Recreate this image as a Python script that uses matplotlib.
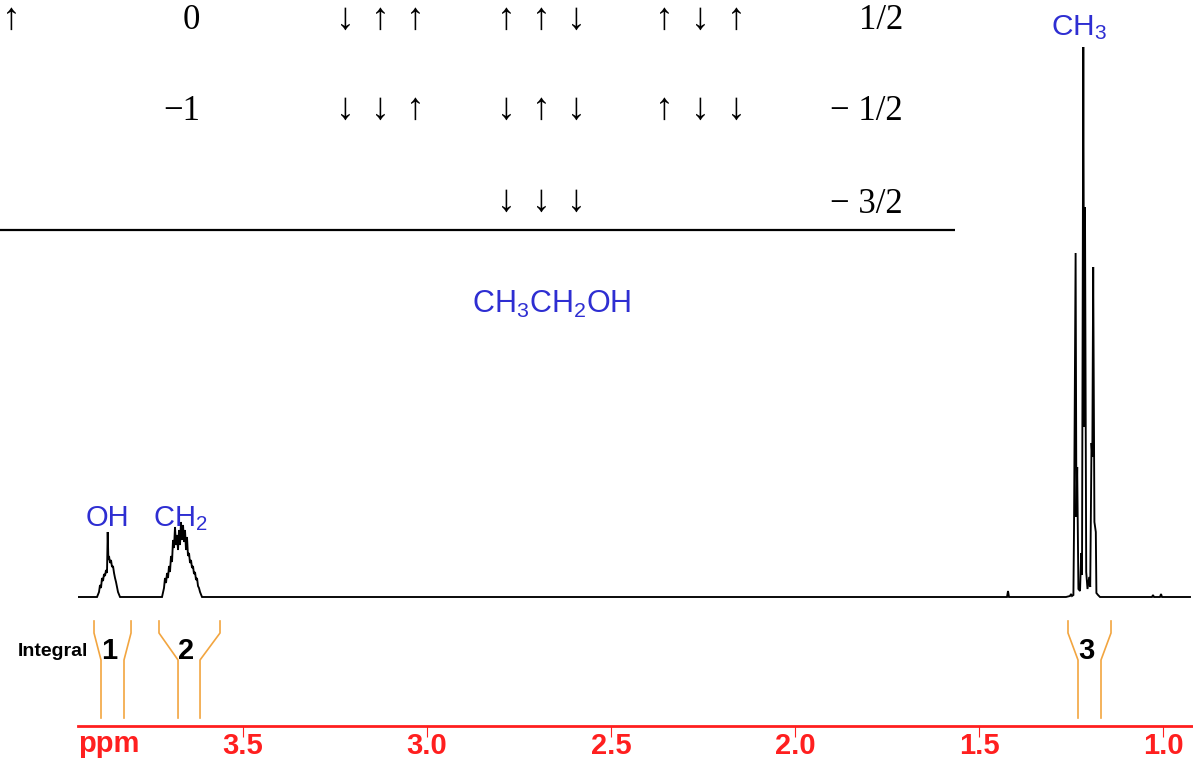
import matplotlib
matplotlib.use("Agg")
import matplotlib.pyplot as plt

# ---------------------------------------------------------------- data
# 1H NMR trace of ethanol: chemical shift (ppm) and relative intensity
start_ppm, end_ppm = 3.9484, 0.9266

oh_ppm = [3.8967, 3.8913, 3.8886, 3.8859, 3.8832, 3.8804, 3.8777, 3.8750,
          3.8723, 3.8696, 3.8677, 3.8658, 3.8641, 3.8614, 3.8587, 3.8560,
          3.8533, 3.8505, 3.8478, 3.8451, 3.8424, 3.8397, 3.8342]
oh_int = [0, 5, 12, 9, 19, 16, 23, 21, 27, 24, 65, 37, 41, 34, 37, 30,
          31, 24, 19, 15, 10, 5, 0]

ch2_ppm = [3.7201, 3.7147, 3.7120, 3.7092, 3.7065, 3.7038, 3.7011, 3.6984,
           3.6957, 3.6929, 3.6902, 3.6875, 3.6848, 3.6821, 3.6793, 3.6766,
           3.6739, 3.6712, 3.6685, 3.6658, 3.6630, 3.6603, 3.6576, 3.6549,
           3.6522, 3.6495, 3.6467, 3.6440, 3.6413, 3.6386, 3.6359, 3.6332,
           3.6304, 3.6277, 3.6250, 3.6223, 3.6196, 3.6168, 3.6114]
ch2_int = [0, 9, 19, 14, 24, 19, 31, 25, 41, 35, 57, 49, 70, 52, 62, 47,
           67, 52, 75, 57, 72, 55, 67, 47, 60, 41, 44, 34, 37, 29, 31, 23,
           25, 17, 19, 11, 9, 5, 0]

impurity_a_ppm = [1.4239, 1.4212, 1.4185]
impurity_a_int = [0, 6, 0]

ch3_ppm = [1.2636, 1.2527, 1.2500, 1.2473, 1.2435, 1.2418, 1.2375, 1.2353,
           1.2332, 1.2299, 1.2255, 1.2223, 1.2201, 1.2166, 1.2141, 1.2120,
           1.2087, 1.2052, 1.2005, 1.1978, 1.1943, 1.1921, 1.1897, 1.1864,
           1.1826, 1.1810, 1.1766, 1.1712]
ch3_int = [0, 1, 3, 1, 2, 69, 344, 80, 130, 8, 6, 44, 22, 550, 170, 390,
           25, 8, 20, 10, 154, 140, 330, 75, 65, 4, 2, 0]

impurity_b_ppm = [1.0299, 1.0272, 1.0245, 1.0082, 1.0054, 1.0027]
impurity_b_int = [0, 2, 0, 0, 3, 0]

# integrals: relative areas with outer / inner bounds (ppm)
integral_values = [1, 2, 3]
integral_outer = [(3.9049, 3.8043), (3.7283, 3.5625), (1.2582, 1.1413)]
integral_inner = [(3.8859, 3.8234), (3.6766, 3.6168), (1.2310, 1.1685)]

tick_values = [3.5, 3.0, 2.5, 2.0, 1.5, 1.0]
tick_labels = ["3.5", "3.0", "2.5", "2.0", "1.5", "1.0"]

# spin-state table for the neighbouring CH3 protons
table_m = ["0", "\u22121", ""]
table_spins = [["\u2193\u2191\u2191", "\u2191\u2191\u2193", "\u2191\u2193\u2191"],
               ["\u2193\u2193\u2191", "\u2193\u2191\u2193", "\u2191\u2193\u2193"],
               ["", "\u2193\u2193\u2193", ""]]
table_total = ["1/2", "\u2212 1/2", "\u2212 3/2"]

# ---------------------------------------------------------------- style
W, H, DPI = 1193, 760, 100
RED = "#ff1f1f"
BLUE = "#2e2ed2"
ORANGE = "#f2a540"

plt.rcParams["font.family"] = ["Liberation Sans", "DejaVu Sans"]
plt.rcParams["mathtext.fontset"] = "custom"
plt.rcParams["mathtext.rm"] = "Liberation Sans"
plt.rcParams["mathtext.it"] = "Liberation Sans:italic"
plt.rcParams["mathtext.bf"] = "Liberation Sans:bold"

fig = plt.figure(figsize=(W / DPI, H / DPI), dpi=DPI)
fig.patch.set_facecolor("white")

# pixel-space layer for the table and free labels
deco = fig.add_axes([0, 0, 1, 1])
deco.set_xlim(0, W)
deco.set_ylim(H, 0)
deco.axis("off")

# spectrum axes: bottom spine is the ppm scale
ax_left, ax_bottom = 78, 726
ax = fig.add_axes([ax_left / W, (H - ax_bottom) / H, (W - ax_left) / W, ax_bottom / H])
ax.set_facecolor("none")
ax.set_xlim(start_ppm, 0.9185)
ax.set_ylim(-129, 597)
for s in ("top", "left", "right"):
    ax.spines[s].set_visible(False)
ax.spines["bottom"].set_color(RED)
ax.spines["bottom"].set_linewidth(2.0)
ax.set_yticks([])
ax.set_xticks(tick_values)
ax.set_xticklabels(tick_labels)
ax.tick_params(axis="x", direction="out", length=8, width=0.8, color=RED,
               labelcolor=RED, labelsize=21, pad=-4)
for lbl in ax.get_xticklabels():
    lbl.set_fontweight("bold")

# spectrum trace
trace_ppm = ([start_ppm] + oh_ppm + ch2_ppm + impurity_a_ppm + ch3_ppm
             + impurity_b_ppm + [end_ppm])
trace_int = ([0] + oh_int + ch2_int + impurity_a_int + ch3_int
             + impurity_b_int + [0])
ax.plot(trace_ppm, trace_int, color="black", lw=1.35, solid_joinstyle="miter")

# peak assignments
ax.text(3.8696, 71, "OH", color=BLUE, fontsize=21, ha="center", va="baseline")
ax.text(3.7445, 71, r"CH$_\mathregular{2}$", color=BLUE, fontsize=21,
        ha="left", va="baseline")
ax.text(1.3043, 562, r"CH$_\mathregular{3}$", color=BLUE, fontsize=21.5,
        ha="left", va="baseline")

# integral brackets
y_top, y_knee, y_low, y_end = -24, -36, -63, -121
for val, (o1, o2), (i1, i2) in zip(integral_values, integral_outer, integral_inner):
    ax.plot([o1, o1, i1, i1], [y_top, y_knee, y_low, y_end], color=ORANGE, lw=1.2)
    ax.plot([o2, o2, i2, i2], [y_top, y_knee, y_low, y_end], color=ORANGE, lw=1.2)
    ax.text((i1 + i2) / 2 + 0.008, -54, str(val), fontsize=21, fontweight="bold",
            color="black", ha="center", va="center")

deco.text(18, 651, "Integral", fontsize=14, fontweight="bold", color="black",
          ha="left", va="center")
deco.text(78, 744, "ppm", fontsize=21, fontweight="bold", color=RED,
          ha="left", va="center")

# compound name
deco.text(552, 313, r"CH$_\mathregular{3}$CH$_\mathregular{2}$OH", color=BLUE,
          fontsize=22, ha="center", va="baseline")

# spin table
serif = ["Liberation Serif", "DejaVu Serif"]
row_base = [29, 120, 213]
row_mid = [20, 110, 202]
group_x = [(345, 380, 415), (506, 541, 576), (664, 700, 736)]
deco.text(2, row_mid[0], "\u2191", family=serif, fontsize=27, ha="left", va="center")
for r in range(3):
    if table_m[r]:
        deco.text(200, row_base[r], table_m[r], family=serif, fontsize=25,
                  ha="right", va="baseline")
    for g, spins in enumerate(table_spins[r]):
        for ch, x in zip(spins, group_x[g]):
            deco.text(x, row_mid[r], ch, family=serif, fontsize=27,
                      ha="center", va="center")
    deco.text(903, row_base[r], table_total[r], family=serif, fontsize=25,
              ha="right", va="baseline")
deco.plot([0, 955], [230, 230], color="black", lw=1.6, solid_capstyle="butt")

fig.savefig("out.png", dpi=DPI, facecolor="white")
